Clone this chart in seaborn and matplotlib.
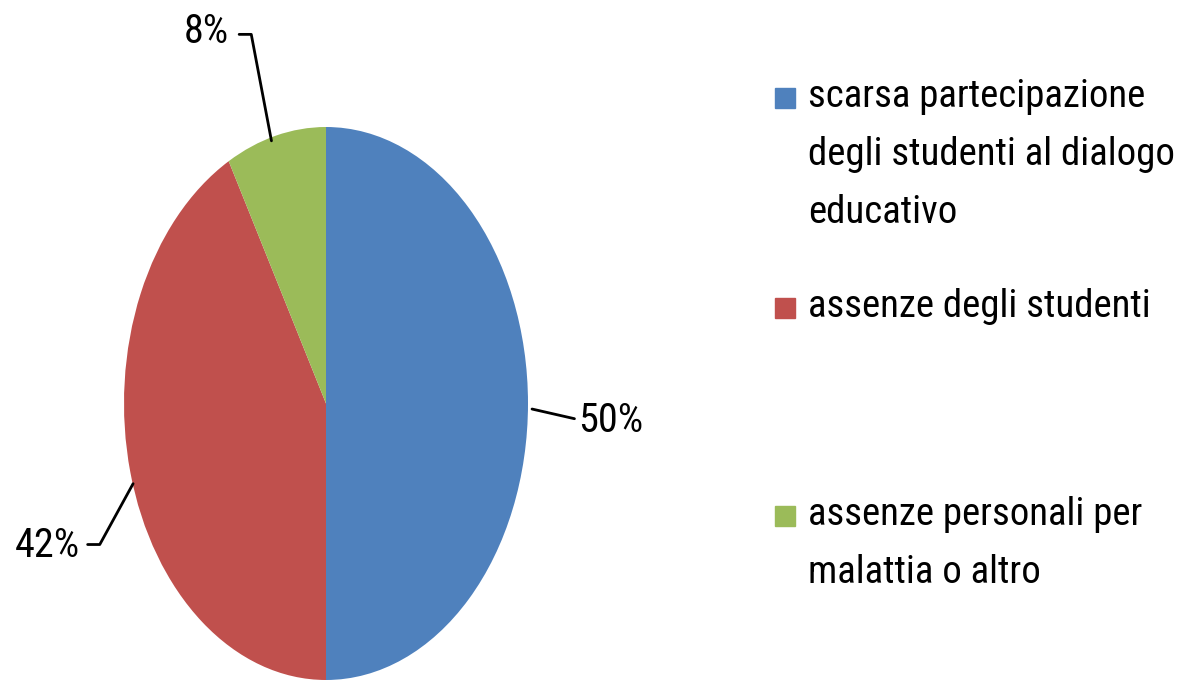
import matplotlib.pyplot as plt
import seaborn as sns
from matplotlib.patches import Rectangle

sns.set_theme(style="white")
plt.rcParams['font.family'] = ['Roboto Condensed', 'DejaVu Sans']
plt.rcParams['font.weight'] = 'normal'
plt.rcParams['text.color'] = 'black'

# dati della torta
categorie = ['scarsa partecipazione\ndegli studenti al dialogo\neducativo',
             'assenze degli studenti',
             'assenze personali per\nmalattia o altro']
valori = [50, 42, 8]
etichette = ['50%', '42%', '8%']
colori = ['#4F81BD', '#C0504D', '#9BBB59']

fig = plt.figure(figsize=(11.88, 6.81), dpi=100)
# asse della torta: ellisse allungata in verticale
ax = fig.add_axes([124 / 1188, 1 / 681, 404 / 1188, 553 / 681])
ax.pie(valori, colors=colori, startangle=90, counterclock=False,
       wedgeprops={'linewidth': 0})
ax.set_aspect('auto')
ax.set_xlim(-1, 1)
ax.set_ylim(-1, 1)
ax.axis('off')

# etichette con linee guida (coordinate in unita' del raggio)
pos_testo = [(1.25, -0.06), (-1.22, -0.515), (-0.48, 1.345)]
allinea = ['left', 'right', 'right']
linee = [[(1.02, -0.02), (1.23, -0.055)],
         [(-0.955, -0.29), (-1.12, -0.51), (-1.18, -0.51)],
         [(-0.27, 0.95), (-0.37, 1.335), (-0.43, 1.335)]]
for lab, (tx, ty), ha, ln in zip(etichette, pos_testo, allinea, linee):
    xs = [p[0] for p in ln]
    ys = [p[1] for p in ln]
    ax.plot(xs, ys, color='black', lw=2, clip_on=False)
    ax.text(tx, ty, lab, ha=ha, va='center', fontsize=29, clip_on=False)

# legenda fatta a mano
y_voci = [97, 307, 515]
for cat, col, yp in zip(categorie, colori, y_voci):
    fig.patches.append(Rectangle((775 / 1188, 1 - (yp + 11) / 681), 20 / 1188, 20 / 681,
                                 transform=fig.transFigure, color=col))
    fig.text(808 / 1188, 1 - (yp - 19) / 681, cat, ha='left', va='top',
             fontsize=28, linespacing=1.73)

plt.savefig('out.png', dpi=100)
